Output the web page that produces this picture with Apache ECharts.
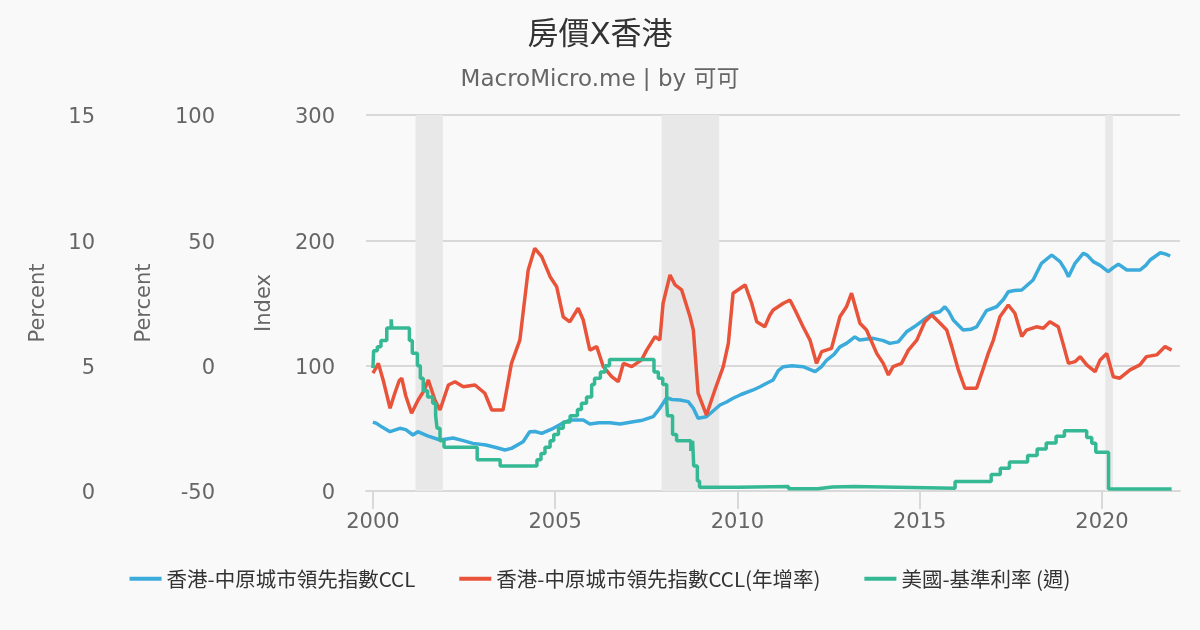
<!DOCTYPE html>
<html>
<head>
<meta charset="utf-8">
<script src="https://cdn.jsdelivr.net/npm/echarts@6/dist/echarts.min.js"></script>
<style>
html,body{margin:0;padding:0;background:#f9f9f9;}
#chart{width:1200px;height:630px;}
</style>
</head>
<body>
<div id="chart"></div>
<script>
// ---- Data (x in decimal years) ----
const cclYears = [2000.0,2000.1,2000.25,2000.47,2000.74,2000.9,2001.1,2001.23,2001.5,2001.84,2002.2,2002.5,2002.74,2003.1,2003.4,2003.62,2003.8,2004.12,2004.3,2004.45,2004.63,2004.95,2005.2,2005.4,2005.77,2005.95,2006.2,2006.5,2006.78,2007.14,2007.4,2007.69,2007.87,2008.06,2008.2,2008.42,2008.65,2008.79,2008.92,2009.15,2009.3,2009.52,2009.7,2009.88,2010.1,2010.43,2010.62,2010.8,2010.98,2011.12,2011.26,2011.5,2011.8,2012.13,2012.3,2012.45,2012.65,2012.81,2013.0,2013.22,2013.35,2013.73,2014.0,2014.18,2014.41,2014.64,2014.85,2015.1,2015.37,2015.55,2015.69,2015.8,2015.92,2016.19,2016.4,2016.56,2016.83,2017.11,2017.3,2017.43,2017.6,2017.8,2018.11,2018.34,2018.62,2018.85,2019.0,2019.08,2019.26,2019.49,2019.6,2019.76,2019.95,2020.17,2020.3,2020.45,2020.68,2021.04,2021.2,2021.32,2021.6,2021.75,2021.87];
const cclValues = [55,54,51,47.3,50,49,44.7,47.3,44,40.7,42.3,40,38,36.7,34.5,32.7,34,39.3,47.3,47.5,46,50,54,56.6,56.6,53.5,54.5,54.5,53.5,55.3,56.5,59.3,66,74.5,73,72.6,71.3,66,58,59.3,63,68.6,71,74,77,80.6,83.2,86,88.6,96,99.2,100,99.2,95.2,99,104.5,109,115,118,123,120.5,121.8,120,117.8,119,127,131,136.4,141.8,143,147,143,136.4,128.5,129,131,143.9,147,153,159,160,160.4,168.4,181.7,188.3,183,176,171,181.7,189.7,188,183,180,175,178,181,176.3,176.3,180,184.3,190.1,189,187.5];

const yoyYears = [2000.0,2000.08,2000.15,2000.28,2000.47,2000.6,2000.72,2000.79,2000.9,2001.06,2001.24,2001.4,2001.52,2001.7,2001.84,2002.07,2002.25,2002.48,2002.8,2003.07,2003.26,2003.57,2003.8,2004.03,2004.26,2004.44,2004.63,2004.86,2005.04,2005.22,2005.4,2005.63,2005.77,2005.95,2006.14,2006.32,2006.55,2006.73,2006.87,2007.1,2007.37,2007.51,2007.74,2007.87,2007.96,2008.15,2008.29,2008.47,2008.7,2008.79,2008.92,2009.15,2009.38,2009.61,2009.75,2009.88,2010.21,2010.39,2010.53,2010.75,2010.89,2010.98,2011.26,2011.44,2011.58,2011.8,2011.99,2012.17,2012.31,2012.58,2012.81,2012.99,2013.13,2013.36,2013.54,2013.82,2014.0,2014.14,2014.27,2014.5,2014.69,2014.92,2015.14,2015.33,2015.56,2015.74,2015.88,2016.06,2016.24,2016.56,2016.7,2016.88,2017.02,2017.2,2017.43,2017.61,2017.8,2017.93,2018.2,2018.39,2018.57,2018.8,2018.93,2019.08,2019.26,2019.4,2019.58,2019.81,2019.95,2020.13,2020.31,2020.49,2020.77,2021.04,2021.22,2021.5,2021.73,2021.91];
const yoyValues = [-3,-1,0.9,-5.7,-17,-11,-6,-5,-12,-19,-13.7,-10,-5.7,-13.7,-17.7,-7.7,-6.4,-8.4,-7.7,-11,-17.7,-17.7,0.9,10.2,38.2,46.8,43.5,35.5,31.5,19.5,17.5,22.9,18.2,6.2,7.6,-0.4,-4.4,-6.4,0.9,-0.4,2.3,6.2,11.6,10.2,24.9,36.2,32.2,30.2,19.5,14.2,-11,-19.7,-9.7,-0.4,8.9,28.9,32.2,24.9,17.5,15.5,20.2,22.2,24.9,26.2,22.2,15.5,10.2,0.9,5.6,6.9,19.5,23.5,28.9,16.9,14.2,4.9,0.9,-3.7,-0.4,0.9,6.2,10.2,17.5,20.2,16.9,14.2,7.6,-1.7,-9,-9,-3,4.9,10.2,19.5,24.2,20.9,11.6,14.2,15.5,14.9,17.5,15.5,8.9,0.9,1.6,3.6,0.3,-2.4,2.3,4.9,-4.4,-5,-1.7,0.3,3.6,4.3,7.6,6.2];

const fedYears = [2000.0,2000.02,2000.12,2000.22,2000.38,2000.5,2000.52,2001.0,2001.08,2001.22,2001.3,2001.38,2001.5,2001.64,2001.72,2001.76,2001.84,2001.95,2002.86,2003.49,2004.5,2004.61,2004.72,2004.86,2004.96,2005.09,2005.22,2005.41,2005.61,2005.72,2005.86,2006.0,2006.08,2006.24,2006.37,2006.49,2007.71,2007.83,2007.95,2008.06,2008.08,2008.22,2008.33,2008.72,2008.77,2008.8,2008.9,2008.96,2010.0,2011.4,2012.2,2012.6,2013.2,2015.97,2016.96,2017.21,2017.46,2017.96,2018.22,2018.47,2018.74,2018.97,2019.58,2019.72,2019.83,2020.18,2021.91];
const fedValues = [4.9,5.6,5.75,6.0,6.5,6.85,6.5,6.0,5.5,5.0,4.5,4.0,3.75,3.5,3.0,2.5,2.0,1.75,1.25,1.0,1.25,1.5,1.75,2.0,2.25,2.5,2.75,3.0,3.25,3.5,3.75,4.25,4.5,4.75,5.0,5.25,4.75,4.5,4.25,3.5,3.0,2.25,2.0,1.6,2.0,1.0,0.4,0.15,0.18,0.09,0.16,0.18,0.11,0.38,0.66,0.91,1.16,1.42,1.68,1.91,2.18,2.4,2.13,1.9,1.55,0.08,0.08];

const recessions = [[2001.17, 2001.92], [2007.92, 2009.5], [2020.09, 2020.3]];
const yearTicks = [2000, 2005, 2010, 2015, 2020];

const seriesNames = ['香港-中原城市領先指數CCL', '香港-中原城市領先指數CCL(年增率)', '美國-基準利率 (週)'];
const colors = ['#3aabda', '#e8533a', '#35b994'];

const zip = (a, b) => a.map((x, i) => [x, b[i]]);

const chart = echarts.init(document.getElementById('chart'), null, {renderer: 'canvas'});
const labelStyle = {color: '#666', fontSize: 21, fontFamily: 'DejaVu Sans'};
const nameStyle = {color: '#666', fontSize: 21, fontFamily: 'DejaVu Sans'};
const yLabel = Object.assign({margin: 31, verticalAlign: 'top', lineHeight: 6}, labelStyle);

chart.setOption({
  backgroundColor: '#f9f9f9',
  animation: false,
  title: {
    text: '房價X香港',
    subtext: 'MacroMicro.me | by 可可',
    left: 'center',
    top: 15,
    itemGap: 18,
    textStyle: {color: '#333', fontSize: 31, fontWeight: 'normal', fontFamily: 'DejaVu Sans, Noto Sans CJK TC'},
    subtextStyle: {color: '#666', fontSize: 23, fontFamily: 'DejaVu Sans, Noto Sans CJK TC'}
  },
  legend: {
    bottom: 36,
    left: 'center',
    icon: 'rect',
    itemWidth: 32,
    itemHeight: 4,
    itemGap: 44,
    data: seriesNames,
    textStyle: {color: '#333', fontSize: 20.5, fontFamily: 'Noto Sans CJK TC'}
  },
  grid: {left: 366, right: 20, top: 115, bottom: 139, containLabel: false},
  xAxis: {
    type: 'value',
    min: 1999.81,
    max: 2022.14,
    axisLine: {lineStyle: {color: '#d9d9d9', width: 2}},
    axisTick: {show: true, length: 18, customValues: yearTicks, lineStyle: {color: '#d9d9d9', width: 2}},
    axisLabel: Object.assign({customValues: yearTicks, margin: 21, formatter: v => String(Math.round(v))}, labelStyle),
    splitLine: {show: false}
  },
  yAxis: [
    {
      type: 'value', position: 'left', offset: 0, min: 0, max: 300, interval: 100,
      name: 'Index', nameLocation: 'middle', nameRotate: 90, nameGap: 91, nameTextStyle: nameStyle,
      axisLine: {show: false}, axisTick: {show: false},
      axisLabel: yLabel,
      splitLine: {show: true, lineStyle: {color: '#d9d9d9', width: 2}}
    },
    {
      type: 'value', position: 'left', offset: 120, min: -50, max: 100, interval: 50,
      name: 'Percent', nameLocation: 'middle', nameRotate: 90, nameGap: 91, nameTextStyle: nameStyle,
      axisLine: {show: false}, axisTick: {show: false},
      axisLabel: yLabel,
      splitLine: {show: false}
    },
    {
      type: 'value', position: 'left', offset: 240, min: 0, max: 15, interval: 5,
      name: 'Percent', nameLocation: 'middle', nameRotate: 90, nameGap: 77, nameTextStyle: nameStyle,
      axisLine: {show: false}, axisTick: {show: false},
      axisLabel: yLabel,
      splitLine: {show: false}
    }
  ],
  series: [
    {
      name: 'recession', type: 'line', data: [], z: 0, silent: true,
      markArea: {
        silent: true,
        itemStyle: {color: '#e8e8e8'},
        data: recessions.map(r => [{xAxis: r[0]}, {xAxis: r[1]}])
      }
    },
    {
      name: seriesNames[0], type: 'line', yAxisIndex: 0, showSymbol: false, symbol: 'none',
      color: colors[0], lineStyle: {width: 3.5, color: colors[0]},
      data: zip(cclYears, cclValues)
    },
    {
      name: seriesNames[1], type: 'line', yAxisIndex: 1, showSymbol: false, symbol: 'none',
      color: colors[1], lineStyle: {width: 3.5, color: colors[1]},
      data: zip(yoyYears, yoyValues)
    },
    {
      name: seriesNames[2], type: 'line', yAxisIndex: 2, showSymbol: false, symbol: 'none', step: 'end',
      color: colors[2], lineStyle: {width: 3.5, color: colors[2]},
      data: zip(fedYears, fedValues)
    }
  ]
});
</script>
</body>
</html>
